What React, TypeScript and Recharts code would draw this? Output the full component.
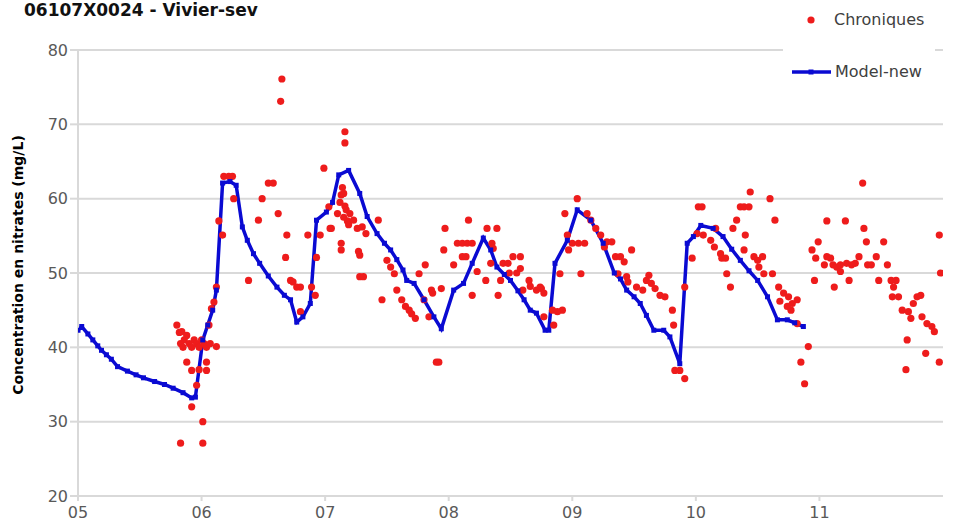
import React from 'react';
import { ComposedChart, Line, Scatter, XAxis, YAxis, CartesianGrid } from 'recharts';

// years as decimals (5 = 2005), nitrate concentration mg/L
const chronDates = [
  5.80, 5.82, 5.84, 5.86, 5.88, 5.83, 5.85, 5.90, 5.92, 5.94, 5.96, 5.98, 6.00, 6.02, 6.04, 6.07, 6.12,
  5.88, 6.04, 5.92, 6.04, 5.96, 5.92, 6.01, 5.83, 6.01, 5.98, 6.06, 6.08, 6.10, 6.12, 6.14, 6.17,
  6.18, 6.22, 6.25, 6.26, 6.38, 6.46, 6.49, 6.54, 6.58, 6.62, 6.64, 6.65, 6.69, 6.68, 6.72, 6.74,
  6.77, 6.80, 6.80, 6.86, 6.96, 6.89, 6.92, 6.93, 6.99, 7.03, 7.05, 7.04, 7.10, 7.12, 7.13, 7.14,
  7.15, 7.16, 7.15, 7.17, 7.18, 7.19, 7.20, 7.13, 7.13, 7.16, 7.16, 7.23, 7.26, 7.27, 7.28, 7.28,
  7.31, 7.30, 7.33, 7.43, 7.46, 7.50, 7.53, 7.56, 7.58, 7.62, 7.65, 7.68, 7.70, 7.73, 7.76, 7.81,
  7.80, 7.86, 7.87, 7.84, 7.94, 7.97, 7.96, 7.90, 7.92, 8.04, 8.07, 8.11, 8.15, 8.19, 8.16, 8.11,
  8.14, 8.19, 8.23, 8.30, 8.31, 8.39, 8.35, 8.36, 8.34, 8.40, 8.42, 8.44, 8.48, 8.52, 8.58, 8.49,
  8.55, 8.58, 8.65, 8.60, 8.66, 8.71, 8.75, 8.77, 8.74, 8.77, 8.84, 8.92, 8.88, 8.85, 8.90, 8.94,
  8.96, 8.97, 9.04, 9.00, 9.05, 9.10, 9.07, 9.12, 9.15, 9.19, 9.23, 9.26, 9.28, 9.32, 9.35, 9.39,
  9.42, 9.48, 9.37, 9.44, 9.45, 9.52, 9.57, 9.60, 9.62, 9.64, 9.67, 9.71, 9.75, 9.81, 9.82, 9.83,
  9.87, 9.91, 9.91, 9.97, 10.02, 10.05, 10.01, 10.06, 10.12, 10.16, 10.15, 10.20, 10.21, 10.24, 10.25, 10.28,
  10.30, 10.33, 10.36, 10.39, 10.43, 10.44, 10.40, 10.39, 10.47, 10.50, 10.54, 10.51, 10.55, 10.60, 10.64, 10.62,
  10.67, 10.71, 10.75, 10.78, 10.74, 10.77, 10.82, 10.68, 10.82, 10.85, 10.91, 10.88, 10.94, 10.97, 10.96, 10.99,
  11.04, 11.06, 11.09, 11.11, 11.14, 11.17, 11.17, 11.06, 11.12, 11.21, 11.24, 11.22, 11.26, 11.29, 11.32, 11.35,
  11.36, 11.38, 11.39, 11.42, 11.46, 11.52, 11.55, 11.48, 11.58, 11.62, 11.60, 11.59, 11.64, 11.67, 11.72, 11.74,
  11.76, 11.79, 11.82, 11.83, 11.87, 11.91, 11.93, 11.71, 11.70, 11.86, 11.97, 11.97, 11.98,
];
const chronValues = [
  43.0, 42.0, 42.1, 41.0, 41.6, 40.5, 40.0, 40.5, 40.0, 41.0, 40.5, 40.0, 41.0, 40.5, 40.0, 40.5, 40.1,
  38.0, 38.0, 36.9, 36.9, 34.9, 32.0, 30.0, 27.1, 27.1, 37.0, 43.0, 45.2, 46.1, 48.1, 57.0, 55.1,
  63.0, 63.0, 63.0, 60.0, 49.0, 57.1, 60.0, 62.1, 62.1, 58.0, 73.1, 76.1, 55.1, 52.1, 49.0, 48.8,
  48.1, 48.1, 44.8, 55.1, 55.1, 48.1, 47.0, 52.1, 64.1, 58.9, 56.0, 56.0, 58.0, 59.5, 60.5, 61.5,
  60.7, 59.0, 57.5, 58.5, 57.0, 56.5, 58.0, 54.0, 53.1, 69.0, 67.5, 57.1, 56.0, 52.9, 52.4, 49.5,
  49.5, 56.2, 55.3, 57.1, 46.4, 51.7, 50.8, 49.9, 47.7, 46.4, 45.5, 45.0, 44.5, 43.9, 49.9, 51.1,
  46.4, 47.7, 47.3, 44.1, 47.9, 56.0, 53.1, 38.0, 38.0, 51.1, 54.0, 54.0, 54.0, 54.0, 57.1, 52.2,
  52.2, 47.0, 50.2, 49.0, 56.0, 56.0, 54.0, 53.3, 51.3, 47.0, 49.0, 51.3, 51.3, 52.2, 52.2, 50.0,
  50.0, 50.6, 49.0, 47.7, 48.2, 47.7, 47.9, 47.3, 48.1, 44.1, 45.0, 45.0, 44.8, 43.0, 49.9, 58.0,
  55.1, 53.1, 60.0, 54.0, 54.0, 54.0, 49.9, 58.0, 57.1, 56.0, 55.1, 53.5, 54.2, 54.2, 52.2, 52.2,
  51.5, 53.1, 49.9, 49.5, 48.8, 48.1, 47.7, 49.0, 49.7, 48.6, 47.9, 47.0, 46.8, 45.0, 43.0, 36.9,
  36.9, 35.8, 48.1, 52.0, 58.9, 58.9, 55.3, 55.1, 54.4, 56.0, 53.5, 52.6, 52.0, 52.0, 49.9, 48.1,
  56.0, 57.1, 58.9, 58.9, 58.9, 60.9, 55.1, 53.1, 52.2, 51.7, 52.2, 50.8, 49.9, 60.0, 57.1, 49.9,
  48.1, 47.3, 46.8, 45.9, 45.5, 45.0, 46.4, 46.2, 43.2, 38.0, 40.1, 35.1, 53.1, 52.0, 49.0, 54.2,
  51.1, 52.2, 52.0, 51.1, 50.8, 50.2, 51.1, 57.0, 48.1, 57.0, 49.0, 51.3, 51.1, 51.3, 52.2, 62.1,
  56.0, 54.2, 51.1, 51.1, 52.2, 54.2, 51.1, 49.0, 49.0, 49.0, 48.1, 46.8, 46.8, 45.0, 44.8, 43.9,
  45.9, 46.8, 47.0, 44.1, 43.2, 42.8, 42.1, 41.0, 37.0, 39.2, 38.0, 55.1, 50.0,
];

const modelDates = [
  5.00, 5.03, 5.08, 5.12, 5.16, 5.19, 5.23, 5.27, 5.32, 5.40, 5.47, 5.53, 5.62, 5.70, 5.77, 5.85,
  5.92, 5.95, 6.01, 6.05, 6.09, 6.12, 6.17, 6.23, 6.28, 6.33, 6.37, 6.42, 6.47, 6.54, 6.61, 6.67,
  6.72, 6.77, 6.82, 6.88, 6.93, 7.01, 7.06, 7.11, 7.19, 7.28, 7.34, 7.42, 7.48, 7.53, 7.58, 7.63,
  7.66, 7.72, 7.80, 7.88, 7.94, 8.04, 8.12, 8.19, 8.28, 8.34, 8.39, 8.45, 8.50, 8.56, 8.61, 8.66,
  8.71, 8.78, 8.81, 8.86, 8.96, 9.04, 9.15, 9.25, 9.34, 9.39, 9.44, 9.50, 9.55, 9.60, 9.66, 9.74,
  9.79, 9.87, 9.93, 9.98, 10.04, 10.14, 10.22, 10.29, 10.36, 10.43, 10.50, 10.58, 10.66, 10.74, 10.80, 10.87,
];
const modelValues = [
  42.3, 42.8, 41.8, 41.0, 40.2, 39.6, 39.0, 38.4, 37.4, 36.8, 36.3, 35.9, 35.4, 35.0, 34.5, 33.9,
  33.2, 33.3, 41.0, 43.0, 45.0, 47.7, 62.1, 62.3, 61.8, 56.2, 54.4, 52.6, 51.3, 49.6, 48.1, 47.0,
  46.4, 43.4, 44.1, 45.9, 57.1, 58.2, 59.5, 63.2, 63.8, 60.7, 57.6, 55.3, 54.0, 53.1, 51.8, 50.4,
  49.0, 48.6, 46.4, 44.1, 42.5, 47.7, 48.6, 51.3, 54.7, 53.1, 50.8, 49.8, 49.0, 47.6, 46.4, 45.0,
  44.6, 42.3, 42.3, 51.3, 54.4, 58.5, 57.1, 54.0, 50.0, 49.2, 47.7, 46.8, 45.9, 44.3, 42.3, 42.3,
  41.4, 37.8, 54.0, 54.9, 56.4, 56.0, 54.9, 53.2, 51.7, 50.3, 49.0, 46.8, 43.7, 43.7, 43.3, 42.8,
];

const yearTicks = [5, 6, 7, 8, 9, 10, 11];
const valueTicks = [20, 30, 40, 50, 60, 70, 80];

const chronData = chronDates.map((x, i) => ({ x, y: chronValues[i] }));
const modelData = modelDates.map((x, i) => ({ x, y: modelValues[i] }));

const RED = '#ee1c1c';
const BLUE = '#0a0ad2';
const FONT = '"DejaVu Sans", sans-serif';

const RedDot = (props: any) => <circle cx={props.cx} cy={props.cy} r={3.6} fill={RED} />;
const SquareDot = (props: any) => (
  <rect key={`m-${props.index}`} x={props.cx - 2.5} y={props.cy - 2.5} width={5} height={5} fill={BLUE} />
);

export default function App() {
  return (
    <div style={{ position: 'absolute', left: 0, top: 0, width: 957, height: 529, background: '#fff', fontFamily: FONT }}>
      <ComposedChart width={957} height={529} margin={{ top: 50, right: 14, bottom: 3, left: 0 }}>
        <CartesianGrid vertical={false} stroke="#d9d9d9" strokeWidth={2} />
        <XAxis
          type="number"
          dataKey="x"
          domain={[5, 12]}
          ticks={yearTicks}
          allowDataOverflow
          height={30}
          tickFormatter={(v) => String(v).padStart(2, '0')}
          axisLine={{ stroke: '#d9d9d9', strokeWidth: 2 }}
          tickLine={{ stroke: '#d9d9d9', strokeWidth: 2 }}
          tickSize={5}
          tickMargin={6}
          tick={{ fill: '#595959', fontSize: 16, fontFamily: FONT }}
        />
        <YAxis
          type="number"
          dataKey="y"
          domain={[20, 80]}
          ticks={valueTicks}
          width={78}
          axisLine={{ stroke: '#d9d9d9', strokeWidth: 2 }}
          tickLine={{ stroke: '#d9d9d9', strokeWidth: 2 }}
          tickSize={8}
          tickMargin={2}
          tick={{ fill: '#595959', fontSize: 16, fontFamily: FONT }}
          label={{
            value: 'Concentration en nitrates (mg/L)',
            angle: -90,
            position: 'insideLeft',
            dx: 13,
            dy: -8,
            style: { textAnchor: 'middle', fontWeight: 'bold', fontSize: 14, fill: '#000', fontFamily: FONT },
          }}
        />
        <Scatter data={chronData} dataKey="y" shape={RedDot} isAnimationActive={false} />
        <Line
          data={modelData}
          dataKey="y"
          type="linear"
          stroke={BLUE}
          strokeWidth={3.5}
          dot={SquareDot}
          activeDot={false}
          isAnimationActive={false}
        />
      </ComposedChart>

      <div style={{ position: 'absolute', left: 24, top: 1, fontSize: 17, lineHeight: '18px', fontWeight: 'bold', color: '#111' }}>
        06107X0024 - Vivier-sev
      </div>

      {/* legend box, white so it hides the 80 gridline like the original */}
      <div style={{ position: 'absolute', left: 783, top: 0, width: 152, height: 95, background: '#fff', fontSize: 16, color: '#404040' }}>
        <svg width={152} height={95} style={{ position: 'absolute', left: 0, top: 0 }}>
          <circle cx={28} cy={20} r={3.6} fill={RED} />
          <line x1={9} y1={72} x2={48} y2={72} stroke={BLUE} strokeWidth={3.5} />
          <rect x={25.5} y={69.5} width={5} height={5} fill={BLUE} />
        </svg>
        <div style={{ position: 'absolute', left: 51, top: 10, lineHeight: '20px' }}>Chroniques</div>
        <div style={{ position: 'absolute', left: 52, top: 62, lineHeight: '20px' }}>Model-new</div>
      </div>
    </div>
  );
}
